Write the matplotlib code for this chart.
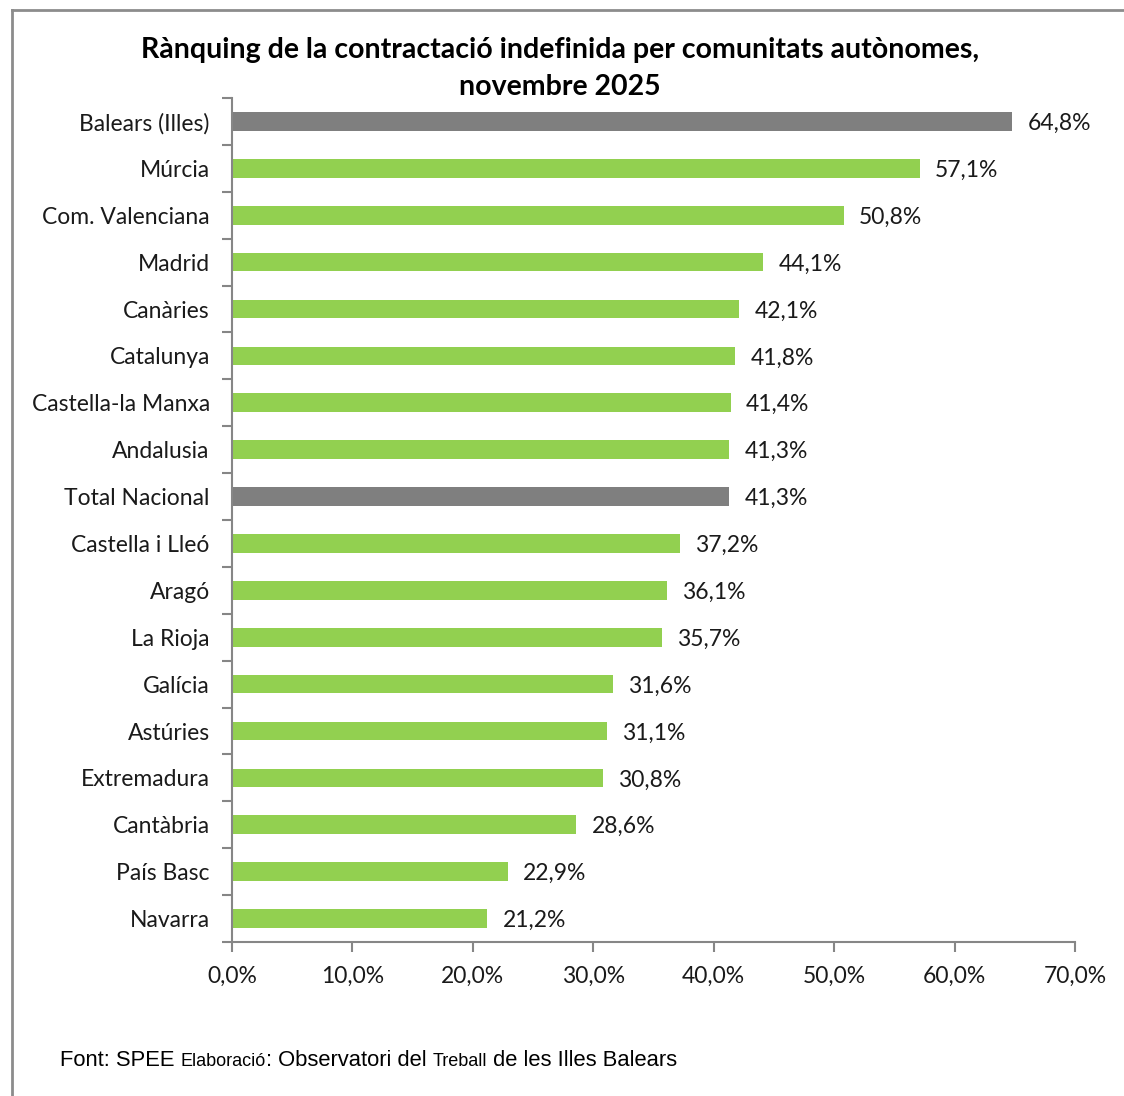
import numpy as np
import matplotlib
matplotlib.use("Agg")
import matplotlib.pyplot as plt
from matplotlib.lines import Line2D
from matplotlib.ticker import FuncFormatter

regions = ["Balears (Illes)", "Múrcia", "Com. Valenciana", "Madrid", "Canàries",
           "Catalunya", "Castella-la Manxa", "Andalusia", "Total Nacional",
           "Castella i Lleó", "Aragó", "La Rioja", "Galícia", "Astúries",
           "Extremadura", "Cantàbria", "País Basc", "Navarra"]
values = [64.8, 57.1, 50.8, 44.1, 42.1, 41.8, 41.4, 41.3, 41.3,
          37.2, 36.1, 35.7, 31.6, 31.1, 30.8, 28.6, 22.9, 21.2]
highlight = ["Balears (Illes)", "Total Nacional"]
xticks = [0, 10, 20, 30, 40, 50, 60, 70]

GREEN = "#92D050"
GREY = "#7F7F7F"
AXIS = "#868686"
FS = 16.5

plt.rcParams["font.family"] = ["Lato", "DejaVu Sans"]

W, H = 1124, 1096
fig = plt.figure(figsize=(W / 100, H / 100), dpi=100)
ax = fig.add_axes([232 / W, 1 - 942 / H, 843 / W, 844 / H])

n = len(regions)
pos = np.arange(n)
colors = [GREY if r in highlight else GREEN for r in regions]
bars = ax.barh(pos, values, height=0.4, color=colors)

for b, v in zip(bars, values):
    ax.annotate(f"{v:.1f}%".replace(".", ","), (b.get_width(), b.get_y() + b.get_height() / 2),
                xytext=(11, 0), textcoords="offset points", va="center_baseline", ha="left",
                fontsize=FS, color="#1a1a1a")

ax.set_ylim(n - 0.5, -0.5)
ax.set_xlim(0, 70)
ax.set_yticks(pos)
ax.set_yticklabels(regions, fontsize=FS, color="#1a1a1a")
ax.set_yticks(np.arange(-0.5, n, 1), minor=True)
ax.tick_params(axis="y", which="major", length=0, pad=16)
ax.tick_params(axis="y", which="minor", length=7, width=1.5, color=AXIS, direction="out")
ax.set_xticks(xticks)
ax.xaxis.set_major_formatter(FuncFormatter(lambda x, p: f"{x:.1f}%".replace(".", ",")))
ax.tick_params(axis="x", length=7, width=1.5, color=AXIS, labelsize=FS, labelcolor="#1a1a1a", pad=10)

for s in ["top", "right"]:
    ax.spines[s].set_visible(False)
for s in ["left", "bottom"]:
    ax.spines[s].set_color(AXIS)
    ax.spines[s].set_linewidth(1.5)

fig.text(560 / W, 1 - 50 / H, "Rànquing de la contractació indefinida per comunitats autònomes,",
         ha="center", va="center", fontsize=20.5, fontweight="bold", color="black")
fig.text(560 / W, 1 - 87 / H, "novembre 2025",
         ha="center", va="center", fontsize=20.5, fontweight="bold", color="black")

# frame around the chart
fig.add_artist(Line2D([12 / W, 12 / W], [0, 1 - 10 / H], color="#8c8c8c", lw=2))
fig.add_artist(Line2D([12 / W, 1], [1 - 10 / H, 1 - 10 / H], color="#8c8c8c", lw=2))

# footer with mixed sizes
footer = [("Font: SPEE ", 15.8), ("Elaboració", 13), (": Observatori del ", 15.8),
          ("Treball", 13), (" de les Illes Balears", 15.8)]
fig.canvas.draw()
renderer = fig.canvas.get_renderer()
x = 60
for txt, fs in footer:
    t = fig.text(x / W, 1 - 1066 / H, txt, ha="left", va="baseline", fontsize=fs,
                 family=["Liberation Sans", "DejaVu Sans"], color="black")
    x = t.get_window_extent(renderer).x1

fig.savefig("out.png", dpi=100)
